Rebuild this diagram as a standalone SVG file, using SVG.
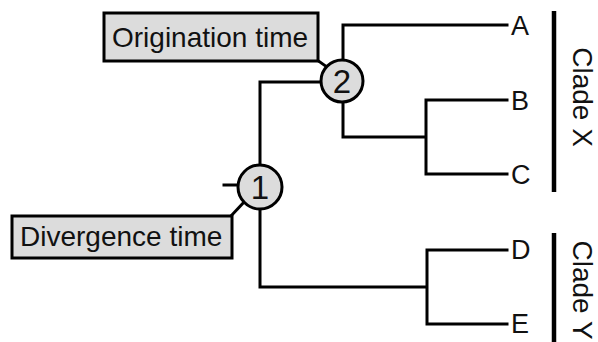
<svg xmlns="http://www.w3.org/2000/svg" width="598" height="342" viewBox="0 0 598 342">
<style>
.ln{fill:none;stroke:#000;stroke-width:3;stroke-linecap:square}
.bar{stroke:#000;stroke-width:4.5}
.box{fill:#dcdcdc;stroke:#000;stroke-width:3}
.txt{font-family:"Liberation Sans",Arial,sans-serif;fill:#111}
.lbl{font-size:28px}
.leaf{font-size:27px}
.num{font-size:33px;text-anchor:middle}
</style>
<rect width="598" height="342" fill="#fff"/>
<g id="connectors">
<path class="ln" d="M343 25 V137 M343 25 H507 M343 137 H426 M426 100 V174 M426 100 H507 M426 174 H507"/>
<path class="ln" d="M260 82 H322 M260 82 V287 H427 M427 250 V324 M427 250 H507 M427 324 H507"/>
<path class="ln" d="M224 185 H238"/>
<path class="ln" d="M317 60 L327 67"/>
<path class="ln" d="M231 216 L244 202"/>
</g>
<g id="node2"><circle cx="342" cy="81" r="21" class="box"/><text class="txt num" x="342" y="93">2</text></g>
<g id="node1"><circle cx="260" cy="187" r="22" class="box"/><text class="txt num" x="260" y="199">1</text></g>
<g id="orig"><rect class="box" x="104" y="13" width="214" height="48"/><text class="txt lbl" x="112" y="47">Origination time</text></g>
<g id="div"><rect class="box" x="12" y="216" width="220" height="42"/><text class="txt lbl" x="20" y="246">Divergence time</text></g>
<g id="A"><text class="txt leaf" x="511" y="35">A</text></g>
<g id="B"><text class="txt leaf" x="511" y="110">B</text></g>
<g id="C"><text class="txt leaf" x="511" y="184">C</text></g>
<g id="D"><text class="txt leaf" x="511" y="259">D</text></g>
<g id="E"><text class="txt leaf" x="511" y="333">E</text></g>
<g id="cladeX"><line class="bar" x1="554" y1="11" x2="554" y2="192"/><text class="txt lbl" text-anchor="middle" transform="translate(573,97) rotate(90)">Clade X</text></g>
<g id="cladeY"><line class="bar" x1="554" y1="233" x2="554" y2="342"/><text class="txt lbl" text-anchor="middle" transform="translate(573,290) rotate(90)">Clade Y</text></g>
</svg>
